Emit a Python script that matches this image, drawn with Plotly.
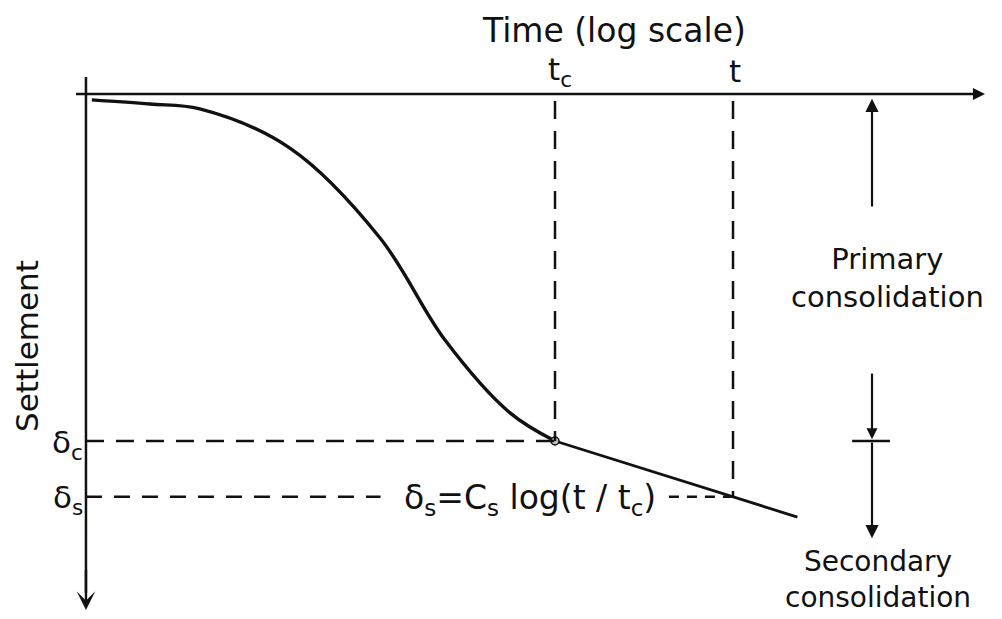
import numpy as np
import plotly.graph_objects as go

# Settlement–time curve for a consolidating soil layer (time on a log scale)
time_primary = [2.5, 5.3, 10.1, 32.4, 104, 241, 559, 1000]
settle_primary = [0.017, 0.029, 0.043, 0.156, 0.415, 0.709, 0.919, 1.0]

t_c = 1000.0          # end of primary consolidation
t_s = 10000.0         # a later time t
t_end = 23000.0       # end of drawn secondary branch
delta_c = 1.0         # settlement at t_c
C_s = 0.161           # secondary compression per log cycle

time_secondary = [t_c, t_s, t_end]
settle_secondary = [delta_c + C_s * np.log10(t / t_c) for t in time_secondary]
delta_s = settle_secondary[1]

FONT = "DejaVu Sans"
INK = "#111111"

lx = np.log10
fig = go.Figure()

# primary branch (smooth S-curve)
fig.add_trace(go.Scatter(x=lx(time_primary), y=settle_primary, mode="lines",
                         line=dict(color=INK, width=3.4, shape="spline", smoothing=1.0),
                         hoverinfo="skip"))
# secondary branch (straight on log-time)
fig.add_trace(go.Scatter(x=lx(time_secondary), y=settle_secondary, mode="lines",
                         line=dict(color=INK, width=2.8), hoverinfo="skip"))
# junction point at t_c
fig.add_trace(go.Scatter(x=[lx(t_c)], y=[delta_c], mode="markers",
                         marker=dict(size=8, color="#bbbbbb", line=dict(color=INK, width=1.5)),
                         hoverinfo="skip"))

# axis extents (log10 time, settlement)
x_axis0, x_axis1 = 0.309, 5.416
y_axis0, y_axis1 = -0.049, 1.487
x_origin = 0.365

# horizontal time axis
fig.add_shape(type="line", x0=x_axis0, x1=x_axis1 - 0.03, y0=0, y1=0,
              line=dict(color=INK, width=2.5))
fig.add_annotation(x=x_axis1, y=0, ax=x_axis1 - 0.12, ay=0, axref="x", ayref="y",
                   xref="x", yref="y", text="", showarrow=True,
                   arrowhead=2, arrowsize=1.1, arrowwidth=2.2, arrowcolor=INK)
# vertical settlement axis
fig.add_shape(type="line", x0=x_origin, x1=x_origin, y0=y_axis0, y1=y_axis1 - 0.05,
              line=dict(color=INK, width=2.5))
fig.add_annotation(x=x_origin, y=y_axis1, ax=x_origin, ay=y_axis1 - 0.12, axref="x", ayref="y",
                   xref="x", yref="y", text="", showarrow=True,
                   arrowhead=3, arrowsize=1.3, arrowwidth=2.4, arrowcolor=INK)

dash = "18px,12px"
# dashed construction lines
fig.add_shape(type="line", x0=lx(t_c), x1=lx(t_c), y0=0.02, y1=delta_c,
              line=dict(color=INK, width=2.5, dash=dash))
fig.add_shape(type="line", x0=lx(t_s), x1=lx(t_s), y0=0.02, y1=delta_s,
              line=dict(color=INK, width=2.5, dash=dash))
fig.add_shape(type="line", x0=x_origin, x1=lx(t_c), y0=delta_c, y1=delta_c,
              line=dict(color=INK, width=2.5, dash=dash))
fig.add_shape(type="line", x0=x_origin, x1=2.02, y0=delta_s, y1=delta_s,
              line=dict(color=INK, width=2.5, dash="16px,12px"))
fig.add_shape(type="line", x0=3.64, x1=lx(t_s), y0=delta_s, y1=delta_s,
              line=dict(color=INK, width=2.5, dash="10px,8px"))

# primary / secondary extent arrows on the right
x_arr = 4.781
fig.add_annotation(x=x_arr, y=0.014, ax=x_arr, ay=0.3285, axref="x", ayref="y",
                   xref="x", yref="y", text="", showarrow=True,
                   arrowhead=2, arrowsize=1.2, arrowwidth=2.2, arrowcolor=INK)
fig.add_annotation(x=x_arr, y=delta_c - 0.005, ax=x_arr, ay=0.801, axref="x", ayref="y",
                   xref="x", yref="y", text="", showarrow=True,
                   arrowhead=2, arrowsize=1.0, arrowwidth=2.2, arrowcolor=INK)
fig.add_annotation(x=x_arr, y=1.28, ax=x_arr, ay=delta_c, axref="x", ayref="y",
                   xref="x", yref="y", text="", showarrow=True,
                   arrowhead=2, arrowsize=1.2, arrowwidth=2.2, arrowcolor=INK)
fig.add_shape(type="line", x0=4.669, x1=4.882, y0=delta_c, y1=delta_c,
              line=dict(color=INK, width=2.5))

def label(text, x, y, size=31, **kw):
    fig.add_annotation(x=x, y=y, xref="x", yref="y", text=text, showarrow=False,
                       font=dict(family=FONT, size=size, color=INK), **kw)

label("Time (log scale)", 3.331, -0.184, size=33)
label("t<sub>c</sub>", 3.03, -0.066)
label("t", 4.011, -0.066)
label("Settlement", 0.034, 0.726, textangle=-90)
label("δ<sub>c</sub>", 0.36, 1.01, xanchor="right")
label("δ<sub>s</sub>", 0.36, 1.17, xanchor="right")
label("δ<sub>s</sub>=C<sub>s</sub> log(t / t<sub>c</sub>)", 2.86, 1.17, size=33)
label("Primary<br>consolidation", 4.87, 0.530, size=29)
label("Secondary<br>consolidation", 4.815, 1.398, size=28)

fig.update_layout(
    width=1002, height=619,
    margin=dict(l=0, r=0, t=0, b=0),
    paper_bgcolor="white", plot_bgcolor="white",
    showlegend=False,
    xaxis=dict(range=[-0.1180, 5.5112], visible=False, fixedrange=True),
    yaxis=dict(range=[1.5130, -0.2709], visible=False, fixedrange=True),
)

fig.write_html("out.html")
